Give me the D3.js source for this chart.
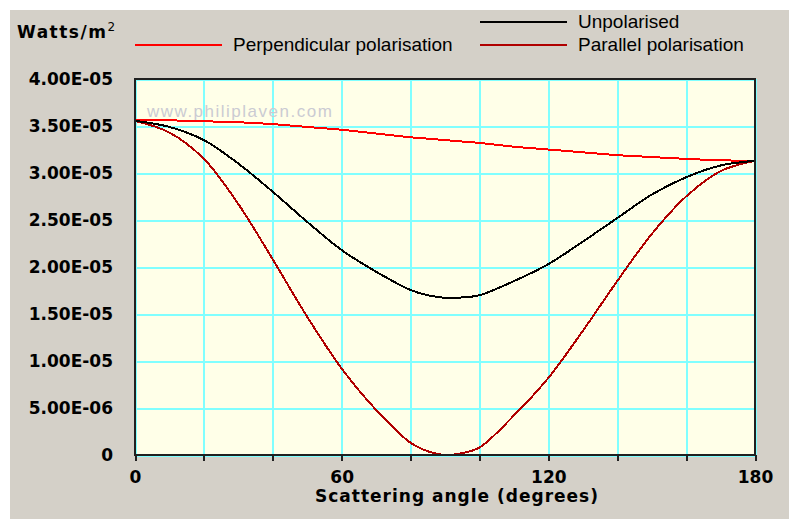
<!DOCTYPE html>
<html>
<head>
<meta charset="utf-8">
<script src="https://cdn.jsdelivr.net/npm/d3@7"></script>
<style>
  html, body { margin: 0; padding: 0; background: #fff; }
  svg { display: block; }
  .tick-label { font-family: "DejaVu Sans", sans-serif; font-weight: bold; font-size: 17px; fill: #000; }
  .legend-text { font-family: "Liberation Sans", Arial, sans-serif; font-size: 19px; fill: #000; }
</style>
</head>
<body>
<svg id="chart"></svg>
<script>
// scattering angle (degrees)
const angles = [0, 10, 20, 30, 40, 50, 60, 70, 80, 85, 90, 95, 100, 110, 120, 130, 140, 150, 160, 170, 180];

// intensities (Watts/m2)
const perpendicular = [3.56e-5, 3.56e-5, 3.55e-5, 3.54e-5, 3.52e-5, 3.49e-5, 3.46e-5, 3.42e-5, 3.38e-5, 3.365e-5,
  3.35e-5, 3.335e-5, 3.32e-5, 3.28e-5, 3.25e-5, 3.22e-5, 3.19e-5, 3.17e-5, 3.15e-5, 3.135e-5, 3.13e-5];
const parallel = [3.555e-5, 3.43e-5, 3.15e-5, 2.67e-5, 2.08e-5, 1.47e-5, 0.92e-5, 0.48e-5, 0.13e-5, 0.04e-5,
  0, 0.02e-5, 0.08e-5, 0.42e-5, 0.82e-5, 1.32e-5, 1.85e-5, 2.35e-5, 2.75e-5, 3.02e-5, 3.13e-5];
const unpolarised = [3.555e-5, 3.49e-5, 3.35e-5, 3.10e-5, 2.80e-5, 2.48e-5, 2.18e-5, 1.95e-5, 1.755e-5, 1.70e-5,
  1.672e-5, 1.676e-5, 1.70e-5, 1.85e-5, 2.03e-5, 2.27e-5, 2.52e-5, 2.77e-5, 2.955e-5, 3.08e-5, 3.13e-5];

const xTicks = [0, 20, 40, 60, 80, 100, 120, 140, 160, 180];
const xLabelled = [0, 60, 120, 180];
const yTicks = [0, 5e-6, 1e-5, 1.5e-5, 2e-5, 2.5e-5, 3e-5, 3.5e-5, 4e-5];

const width = 789;
const height = 519;
const margin = { top: 79, right: 34, bottom: 64, left: 135 };
const innerW = width - margin.left - margin.right;
const innerH = height - margin.top - margin.bottom;

const svg = d3.select('#chart')
  .attr('width', width)
  .attr('height', height);

// grey window background with white strip top/left
svg.append('rect')
  .attr('x', 10).attr('y', 10)
  .attr('width', width - 10).attr('height', height - 10)
  .attr('fill', '#d4d0c8');

const x = d3.scaleLinear().domain([0, 180]).range([0, innerW]);
const y = d3.scaleLinear().domain([0, 4e-5]).range([innerH, 0]);

const g = svg.append('g')
  .attr('transform', `translate(${margin.left},${margin.top})`);

g.append('rect')
  .attr('width', innerW).attr('height', innerH)
  .attr('fill', '#ffffe8');

// gridlines
g.append('g')
  .attr('transform', `translate(0,${innerH})`)
  .call(d3.axisBottom(x).tickValues(xTicks).tickSize(-innerH).tickFormat(''))
  .call(s => s.select('.domain').remove())
  .call(s => s.selectAll('line').attr('stroke', '#80ffff').attr('stroke-width', 2).attr('shape-rendering', 'crispEdges'));

g.append('g')
  .call(d3.axisLeft(y).tickValues(yTicks).tickSize(-innerW).tickFormat(''))
  .call(s => s.select('.domain').remove())
  .call(s => s.selectAll('line').attr('stroke', '#80ffff').attr('stroke-width', 2).attr('shape-rendering', 'crispEdges'));

// watermark
g.append('text')
  .attr('x', 12).attr('y', 38)
  .attr('font-family', '"Liberation Sans", Arial, sans-serif')
  .attr('font-size', 17)
  .attr('letter-spacing', 1.5)
  .attr('fill', '#cbcbd3')
  .text('www.philiplaven.com');

// curves
const line = d3.line()
  .x((d, i) => x(angles[i]))
  .y(d => y(d))
  .curve(d3.curveCatmullRom.alpha(0.5));

const series = [
  { name: 'Perpendicular polarisation', values: perpendicular, color: '#ff0000' },
  { name: 'Parallel polarisation', values: parallel, color: '#b00000' },
  { name: 'Unpolarised', values: unpolarised, color: '#000000' }
];

g.selectAll('.curve')
  .data(series)
  .enter()
  .append('path')
  .attr('class', 'curve')
  .attr('d', d => line(d.values))
  .attr('fill', 'none')
  .attr('stroke', d => d.color)
  .attr('stroke-width', 2)
  .attr('shape-rendering', 'crispEdges');

// frame
g.append('rect')
  .attr('width', innerW).attr('height', innerH)
  .attr('fill', 'none')
  .attr('stroke', '#202020')
  .attr('stroke-width', 2)
  .attr('shape-rendering', 'crispEdges');

// x axis ticks and labels
const fmtExp = v => {
  if (v === 0) return '0';
  const [m, e] = v.toExponential(2).split('e');
  const n = Math.abs(+e);
  return `${m}E${+e < 0 ? '-' : '+'}${n < 10 ? '0' + n : n}`;
};

const xAxis = g.append('g')
  .attr('transform', `translate(0,${innerH})`)
  .call(d3.axisBottom(x).tickValues(xTicks).tickSize(6).tickPadding(10)
    .tickFormat(d => xLabelled.includes(d) ? d : ''));
xAxis.select('.domain').remove();
xAxis.selectAll('line').attr('stroke', '#202020').attr('stroke-width', 2).attr('shape-rendering', 'crispEdges');
xAxis.selectAll('text').attr('class', 'tick-label').attr('font-size', null).attr('font-family', null);

const yAxis = g.append('g')
  .call(d3.axisLeft(y).tickValues(yTicks).tickSize(0).tickPadding(22).tickFormat(fmtExp));
yAxis.select('.domain').remove();
yAxis.selectAll('text').attr('class', 'tick-label').attr('font-size', null).attr('font-family', null);

// axis titles
svg.append('text')
  .attr('class', 'tick-label')
  .attr('x', 457).attr('y', 502)
  .attr('text-anchor', 'middle')
  .attr('letter-spacing', 1)
  .text('Scattering angle (degrees)');

const unit = svg.append('text')
  .attr('class', 'tick-label')
  .attr('x', 17).attr('y', 38)
  .attr('letter-spacing', 1.5);
unit.append('tspan').text('Watts/m');
unit.append('tspan')
  .attr('dy', -7)
  .attr('font-weight', 'normal')
  .attr('font-size', 12)
  .attr('letter-spacing', 0)
  .text('2');

// legend
const legendPos = [
  { s: series[0], x: 135, y: 45 },
  { s: series[2], x: 480, y: 22 },
  { s: series[1], x: 480, y: 45 }
];

const legend = svg.append('g');
legendPos.forEach(p => {
  legend.append('line')
    .attr('x1', p.x).attr('x2', p.x + 87)
    .attr('y1', p.y).attr('y2', p.y)
    .attr('stroke', p.s.color)
    .attr('stroke-width', 2)
    .attr('shape-rendering', 'crispEdges');
  legend.append('text')
    .attr('class', 'legend-text')
    .attr('x', p.x + 98).attr('y', p.y + 6)
    .text(p.s.name);
});
</script>
</body>
</html>
